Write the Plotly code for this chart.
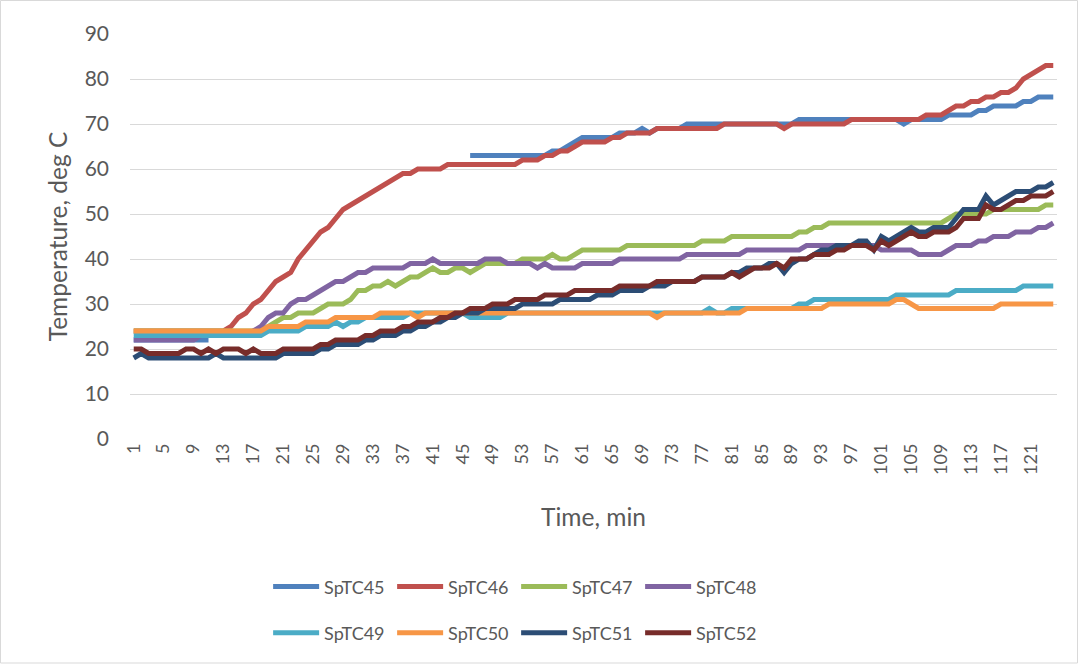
import plotly.graph_objects as go

# Time axis (minutes) and sensor readings (deg C)
minutes = list(range(1, 125))
tick_minutes = [1, 5, 9, 13, 17, 21, 25, 29, 33, 37, 41, 45, 49, 53, 57, 61,
                65, 69, 73, 77, 81, 85, 89, 93, 97, 101, 105, 109, 113, 117, 121]
y_ticks = [0, 10, 20, 30, 40, 50, 60, 70, 80, 90]

N = None
SpTC45 = [22, 22, 22, 22, 22, 22, 22, 22, 22, 22,
          22, N, N, N, N, N, N, N, N, N,
          N, N, N, N, N, N, N, N, N, N,
          N, N, N, N, N, N, N, N, N, N,
          N, N, N, N, N, 63, 63, 63, 63, 63,
          63, 63, 63, 63, 63, 63, 64, 64, 65, 66,
          67, 67, 67, 67, 67, 68, 68, 68, 69, 68,
          69, 69, 69, 69, 70, 70, 70, 70, 70, 70,
          70, 70, 70, 70, 70, 70, 70, 70, 70, 71,
          71, 71, 71, 71, 71, 71, 71, 71, 71, 71,
          71, 71, 71, 70, 71, 71, 71, 71, 71, 72,
          72, 72, 72, 73, 73, 74, 74, 74, 74, 75,
          75, 76, 76, 76]
SpTC46 = [24, 24, 24, 24, 24, 24, 24, 24, 24, 24,
          24, 24, 24, 25, 27, 28, 30, 31, 33, 35,
          36, 37, 40, 42, 44, 46, 47, 49, 51, 52,
          53, 54, 55, 56, 57, 58, 59, 59, 60, 60,
          60, 60, 61, 61, 61, 61, 61, 61, 61, 61,
          61, 61, 62, 62, 62, 63, 63, 64, 64, 65,
          66, 66, 66, 66, 67, 67, 68, 68, 68, 68,
          69, 69, 69, 69, 69, 69, 69, 69, 69, 70,
          70, 70, 70, 70, 70, 70, 70, 69, 70, 70,
          70, 70, 70, 70, 70, 70, 71, 71, 71, 71,
          71, 71, 71, 71, 71, 71, 72, 72, 72, 73,
          74, 74, 75, 75, 76, 76, 77, 77, 78, 80,
          81, 82, 83, 83]
SpTC47 = [24, 24, 24, 24, 24, 24, 24, 24, 24, 24,
          24, 24, 24, 24, 24, 24, 24, 24, 25, 26,
          27, 27, 28, 28, 28, 29, 30, 30, 30, 31,
          33, 33, 34, 34, 35, 34, 35, 36, 36, 37,
          38, 37, 37, 38, 38, 37, 38, 39, 39, 39,
          39, 39, 40, 40, 40, 40, 41, 40, 40, 41,
          42, 42, 42, 42, 42, 42, 43, 43, 43, 43,
          43, 43, 43, 43, 43, 43, 44, 44, 44, 44,
          45, 45, 45, 45, 45, 45, 45, 45, 45, 46,
          46, 47, 47, 48, 48, 48, 48, 48, 48, 48,
          48, 48, 48, 48, 48, 48, 48, 48, 48, 49,
          50, 50, 50, 50, 50, 51, 51, 51, 51, 51,
          51, 51, 52, 52]
SpTC48 = [22, 22, 22, 22, 22, 22, 22, 22, 22, 23,
          23, 23, 23, 23, 23, 23, 24, 25, 27, 28,
          28, 30, 31, 31, 32, 33, 34, 35, 35, 36,
          37, 37, 38, 38, 38, 38, 38, 39, 39, 39,
          40, 39, 39, 39, 39, 39, 39, 40, 40, 40,
          39, 39, 39, 39, 38, 39, 38, 38, 38, 38,
          39, 39, 39, 39, 39, 40, 40, 40, 40, 40,
          40, 40, 40, 40, 41, 41, 41, 41, 41, 41,
          41, 41, 42, 42, 42, 42, 42, 42, 42, 42,
          43, 43, 43, 43, 43, 43, 43, 43, 43, 43,
          42, 42, 42, 42, 42, 41, 41, 41, 41, 42,
          43, 43, 43, 44, 44, 45, 45, 45, 46, 46,
          46, 47, 47, 48]
SpTC49 = [23, 23, 23, 23, 23, 23, 23, 23, 23, 23,
          23, 23, 23, 23, 23, 23, 23, 23, 24, 24,
          24, 24, 24, 25, 25, 25, 25, 26, 25, 26,
          26, 27, 27, 27, 27, 27, 27, 28, 28, 28,
          28, 28, 28, 28, 28, 27, 27, 27, 27, 27,
          28, 28, 28, 28, 28, 28, 28, 28, 28, 28,
          28, 28, 28, 28, 28, 28, 28, 28, 28, 28,
          28, 28, 28, 28, 28, 28, 28, 29, 28, 28,
          29, 29, 29, 29, 29, 29, 29, 29, 29, 30,
          30, 31, 31, 31, 31, 31, 31, 31, 31, 31,
          31, 31, 32, 32, 32, 32, 32, 32, 32, 32,
          33, 33, 33, 33, 33, 33, 33, 33, 33, 34,
          34, 34, 34, 34]
SpTC50 = [24, 24, 24, 24, 24, 24, 24, 24, 24, 24,
          24, 24, 24, 24, 24, 24, 24, 24, 25, 25,
          25, 25, 25, 26, 26, 26, 26, 27, 27, 27,
          27, 27, 27, 28, 28, 28, 28, 28, 27, 28,
          28, 28, 28, 28, 28, 28, 28, 28, 28, 28,
          28, 28, 28, 28, 28, 28, 28, 28, 28, 28,
          28, 28, 28, 28, 28, 28, 28, 28, 28, 28,
          27, 28, 28, 28, 28, 28, 28, 28, 28, 28,
          28, 28, 29, 29, 29, 29, 29, 29, 29, 29,
          29, 29, 29, 30, 30, 30, 30, 30, 30, 30,
          30, 30, 31, 31, 30, 29, 29, 29, 29, 29,
          29, 29, 29, 29, 29, 29, 30, 30, 30, 30,
          30, 30, 30, 30]
SpTC51 = [18, 19, 18, 18, 18, 18, 18, 18, 18, 18,
          18, 19, 18, 18, 18, 18, 18, 18, 18, 18,
          19, 19, 19, 19, 19, 20, 20, 21, 21, 21,
          21, 22, 22, 23, 23, 23, 24, 24, 25, 25,
          26, 26, 27, 27, 28, 28, 28, 29, 29, 29,
          29, 29, 30, 30, 30, 30, 30, 31, 31, 31,
          31, 31, 32, 32, 32, 33, 33, 33, 33, 34,
          34, 34, 35, 35, 35, 35, 36, 36, 36, 36,
          37, 37, 38, 38, 38, 39, 39, 37, 39, 40,
          40, 41, 42, 42, 43, 43, 43, 44, 44, 42,
          45, 44, 45, 46, 47, 46, 46, 47, 47, 47,
          49, 51, 51, 51, 54, 52, 53, 54, 55, 55,
          55, 56, 56, 57]
SpTC52 = [20, 20, 19, 19, 19, 19, 19, 20, 20, 19,
          20, 19, 20, 20, 20, 19, 20, 19, 19, 19,
          20, 20, 20, 20, 20, 21, 21, 22, 22, 22,
          22, 23, 23, 24, 24, 24, 25, 25, 26, 26,
          26, 27, 27, 28, 28, 29, 29, 29, 30, 30,
          30, 31, 31, 31, 31, 32, 32, 32, 32, 33,
          33, 33, 33, 33, 33, 34, 34, 34, 34, 34,
          35, 35, 35, 35, 35, 35, 36, 36, 36, 36,
          37, 36, 37, 38, 38, 38, 39, 38, 40, 40,
          40, 41, 41, 41, 42, 42, 43, 43, 43, 42,
          44, 43, 44, 45, 46, 45, 45, 46, 46, 46,
          47, 49, 49, 49, 52, 51, 51, 52, 53, 53,
          54, 54, 54, 55]

series = [
    ("SpTC45", SpTC45, "#4F81BD", "legend"),
    ("SpTC46", SpTC46, "#C0504D", "legend"),
    ("SpTC47", SpTC47, "#9BBB59", "legend"),
    ("SpTC48", SpTC48, "#8064A2", "legend"),
    ("SpTC49", SpTC49, "#4BACC6", "legend2"),
    ("SpTC50", SpTC50, "#F79646", "legend2"),
    ("SpTC51", SpTC51, "#2C4D75", "legend2"),
    ("SpTC52", SpTC52, "#772C2A", "legend2"),
]

TEXT = "#595959"
GRID = "#D9D9D9"
FONT = "Lato"

fig = go.Figure()
for name, vals, color, lg in series:
    fig.add_trace(go.Scatter(
        x=minutes, y=vals, name=name, mode="lines",
        line=dict(color=color, width=5),
        connectgaps=False, legend=lg,
    ))

legend_common = dict(
    orientation="h", xanchor="left", yanchor="middle",
    itemwidth=46, entrywidth=63, entrywidthmode="pixels",
    font=dict(family=FONT, size=18, color=TEXT),
    bgcolor="rgba(0,0,0,0)", itemclick=False, itemdoubleclick=False,
)

fig.update_layout(
    width=1080, height=666,
    margin=dict(l=130, r=23, t=34, b=227),
    paper_bgcolor="white", plot_bgcolor="white",
    font=dict(family=FONT, color=TEXT),
    showlegend=True,
    legend=dict(x=0.149, y=-0.365, **legend_common),
    legend2=dict(x=0.149, y=-0.479, **legend_common),
    xaxis=dict(
        range=[0.5, 124.5], tickmode="array", tickvals=tick_minutes,
        ticktext=[str(t) for t in tick_minutes], tickangle=-90,
        tickfont=dict(family=FONT, size=18, color=TEXT),
        showgrid=False, zeroline=False, showline=False, ticks="",
        title=dict(text="Time, min", font=dict(family=FONT, size=24.5, color=TEXT),
                   standoff=34),
    ),
    yaxis=dict(
        range=[0, 90], tickvals=y_ticks,
        tickfont=dict(family=FONT, size=21, color=TEXT),
        showgrid=True, gridcolor=GRID, gridwidth=1.3,
        zeroline=False, showline=False, ticks="",
        ticklabelstandoff=20,
        title=dict(text="Temperature, deg C", font=dict(family=FONT, size=24.5, color=TEXT),
                   standoff=10),
    ),
    shapes=[dict(type="rect", xref="paper", yref="paper",
                 x0=-129.5 / 927, x1=947.5 / 927, y0=-224 / 405, y1=438.5 / 405,
                 line=dict(color=GRID, width=1), fillcolor="rgba(0,0,0,0)", layer="below")],
)

fig.write_html("out.html")
